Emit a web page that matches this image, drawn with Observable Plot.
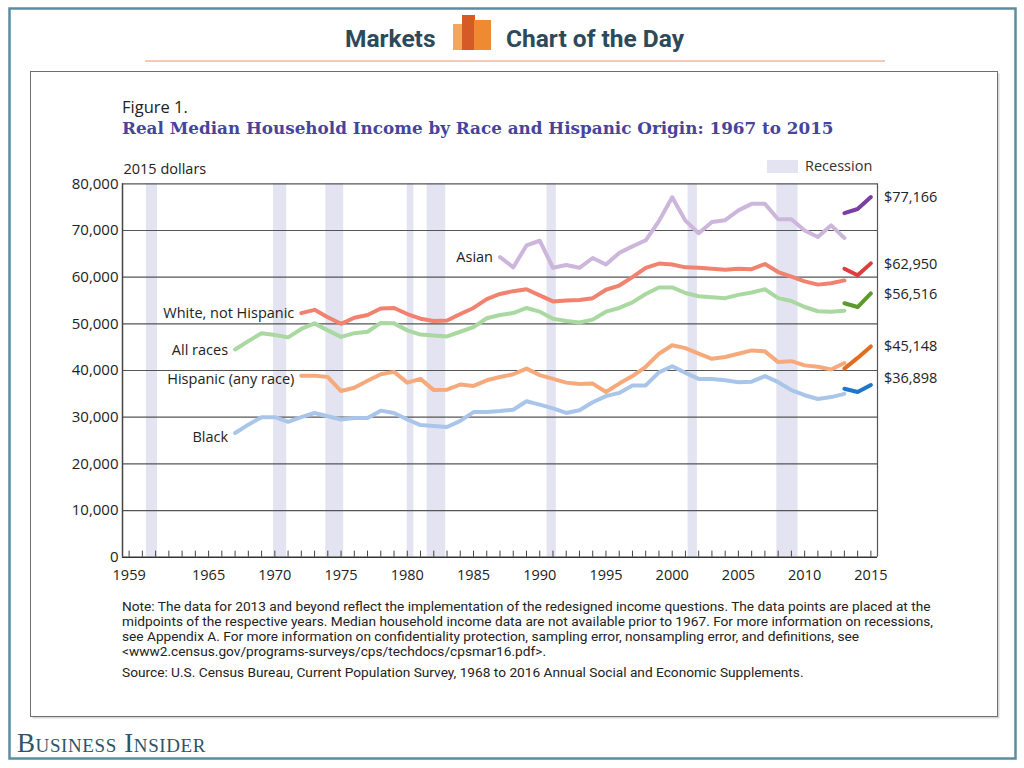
<!DOCTYPE html>
<html>
<head>
<meta charset="utf-8">
<script src="https://cdn.jsdelivr.net/npm/d3@7"></script>
<script src="https://cdn.jsdelivr.net/npm/@observablehq/plot@0.6"></script>
<style>
  body { margin: 0; background: #fff; }
  #page { position: relative; width: 1024px; height: 768px; overflow: hidden; }
  #deco { position: absolute; left: 0; top: 0; }
  #chart { position: absolute; left: 30px; top: 140px; }
</style>
</head>
<body>
<div id="page">
<svg id="deco" width="1024" height="768" xmlns="http://www.w3.org/2000/svg">
  <rect x="9.5" y="8.5" width="1006" height="750" fill="none" stroke="#5b8ca1" stroke-width="2.5"/>
  <text x="345" y="46.7" font-family="Roboto" font-weight="bold" font-size="24.5" fill="#2c4a5a">Markets</text>
  <rect x="453" y="24" width="12" height="26" fill="#f5a65b"/>
  <rect x="462" y="15" width="13" height="35" fill="#d65a26"/>
  <rect x="474" y="20" width="17" height="30" fill="#ef8a33"/>
  <text x="506" y="46.7" font-family="Roboto" font-weight="bold" font-size="24.5" fill="#2c4a5a">Chart of the Day</text>
  <line x1="145" x2="885" y1="61" y2="61" stroke="#f4b4a4" stroke-width="1.5"/>
  <rect x="32.5" y="73.5" width="967" height="645" fill="#d8d8d8"/>
  <rect x="30.5" y="71.5" width="967" height="645" fill="#fff" stroke="#6f6f6f" stroke-width="1"/>
  <text x="122" y="113" font-family="Open Sans" font-size="16.5" fill="#222">Figure 1.</text>
  <text x="122" y="134" font-family="DejaVu Serif" font-weight="bold" font-size="16.8" fill="#45459a">Real Median Household Income by Race and Hispanic Origin: 1967 to 2015</text>
  <rect x="767" y="160" width="31" height="13" fill="#e4e3f1"/>
  <text x="805" y="171" font-family="Open Sans" font-size="14.5" fill="#333">Recession</text>
  <g font-family="Roboto" font-size="13.7" fill="#222">
    <text x="122" y="611">Note: The data for 2013 and beyond reflect the implementation of the redesigned income questions. The data points are placed at the</text>
    <text x="122" y="626">midpoints of the respective years. Median household income data are not available prior to 1967. For more information on recessions,</text>
    <text x="122" y="641">see Appendix A. For more information on confidentiality protection, sampling error, nonsampling error, and definitions, see</text>
    <text x="122" y="655.5">&lt;www2.census.gov/programs-surveys/cps/techdocs/cpsmar16.pdf&gt;.</text>
    <text x="122" y="677">Source: U.S. Census Bureau, Current Population Survey, 1968 to 2016 Annual Social and Economic Supplements.</text>
  </g>
  <text x="17" y="751.5" font-family="Liberation Serif" font-size="27" font-variant="small-caps" letter-spacing="0.6" fill="#2e5468">Business Insider</text>
</svg>
<div id="chart"></div>
</div>
<script>
// ---- Data, 2015 dollars ----
const oldYears = [1967,1968,1969,1970,1971,1972,1973,1974,1975,1976,1977,1978,1979,1980,1981,1982,1983,1984,1985,1986,1987,1988,1989,1990,1991,1992,1993,1994,1995,1996,1997,1998,1999,2000,2001,2002,2003,2004,2005,2006,2007,2008,2009,2010,2011,2012,2013];
const newYears = [2013, 2014, 2015];

const allRaces = [44500,46300,48000,47600,47100,48900,50100,48600,47200,48000,48300,50200,50100,48600,47700,47500,47300,48300,49300,51200,51900,52300,53400,52600,51100,50600,50300,50900,52600,53400,54600,56400,57800,57800,56600,55900,55700,55500,56200,56700,57400,55500,54900,53600,52700,52600,52800];
const whiteNotHispanic = [null,null,null,null,null,52300,53000,51400,50000,51300,51900,53300,53400,52100,51100,50600,50700,52100,53400,55300,56400,57000,57400,56100,54800,55000,55100,55500,57300,58200,60000,62000,62900,62700,62100,62000,61800,61600,61800,61700,62800,61100,60100,59100,58400,58700,59300];
const hispanic = [null,null,null,null,null,38900,38900,38600,35600,36300,37800,39200,39700,37400,38200,35800,35900,37000,36700,37900,38600,39200,40400,39000,38200,37400,37100,37200,35400,37200,38800,40800,43600,45400,44800,43600,42500,42900,43600,44300,44100,41800,42000,41100,40800,40200,41600];
const black = [26600,28400,30000,30000,29000,30000,30900,30200,29500,29800,29800,31400,30900,29500,28300,28100,27900,29200,31100,31100,31300,31600,33400,32700,31900,30900,31500,33200,34500,35200,36800,36800,39600,40900,39500,38200,38200,37900,37500,37600,38800,37500,35800,34700,33900,34300,35000];
const asian = [null,null,null,null,null,null,null,null,null,null,null,null,null,null,null,null,null,null,null,null,64300,62100,66800,67800,62000,62600,62000,64100,62700,65200,66600,67900,72000,77100,72100,69400,71800,72200,74300,75700,75700,72400,72400,70000,68600,71100,68400];

const asianNew = [73700, 74600, 77166];
const whiteNew = [61800, 60400, 62950];
const allNew = [54400, 53600, 56516];
const hispanicNew = [40400, 42700, 45148];
const blackNew = [36100, 35400, 36898];

const seriesNames = ["Asian", "White, not Hispanic", "All races", "Hispanic (any race)", "Black"];
const recessionStart = [1960.3, 1969.9, 1973.85, 1980.0, 1981.5, 1990.55, 2001.2, 2007.9];
const recessionEnd   = [1961.15, 1970.9, 1975.2, 1980.5, 1982.9, 1991.25, 2001.9, 2009.5];
const yTicks = [0,10000,20000,30000,40000,50000,60000,70000,80000];
const xLabelYears = [1959,1965,1970,1975,1980,1985,1990,1995,2000,2005,2010,2015];
const xTickYears = [1959,1960,1961,1962,1963,1964,1965,1966,1967,1968,1969,1970,1971,1972,1973,1974,1975,1976,1977,1978,1979,1980,1981,1982,1983,1984,1985,1986,1987,1988,1989,1990,1991,1992,1993,1994,1995,1996,1997,1998,1999,2000,2001,2002,2003,2004,2005,2006,2007,2008,2009,2010,2011,2012,2013,2014,2015];

// ---- Styling (not data) ----
const style = {
  "Asian":               {old: "#cdb6dc", neu: "#7a3fa0", labelDy: 0,  endDy: 0},
  "White, not Hispanic": {old: "#f0826f", neu: "#e03b3e", labelDy: 0,  endDy: 1},
  "All races":           {old: "#a9d8a0", neu: "#5c9a2b", labelDy: 1,  endDy: 1},
  "Hispanic (any race)": {old: "#f6aa7c", neu: "#e06e1e", labelDy: 4,  endDy: 0},
  "Black":               {old: "#a9c6ea", neu: "#1f75c6", labelDy: 4,  endDy: -7}
};

const oldValues = {"Asian": asian, "White, not Hispanic": whiteNotHispanic, "All races": allRaces, "Hispanic (any race)": hispanic, "Black": black};
const newValues = {"Asian": asianNew, "White, not Hispanic": whiteNew, "All races": allNew, "Hispanic (any race)": hispanicNew, "Black": blackNew};

const recessions = recessionStart.map((s, i) => ({start: s, end: recessionEnd[i]}));

const marks = [
  Plot.rect(recessions, {x1: "start", x2: "end", y1: 0, y2: 80000, fill: "#e4e3f1"}),
  Plot.ruleY(yTicks.filter(d => d > 0), {stroke: "#555", strokeWidth: 1.2}),
  Plot.ruleX([1958.5], {y1: 0, y2: 80000, stroke: "#444", strokeWidth: 1.5}),
  Plot.ruleX([2015.5], {y1: 0, y2: 80000, stroke: "#555", strokeWidth: 1.2}),
  Plot.ruleX(xTickYears, {y1: 0, y2: 1300, stroke: "#444", strokeWidth: 1}),
  Plot.ruleY([0], {stroke: "#333", strokeWidth: 1.5}),
];

for (const name of seriesNames) {
  const st = style[name];
  const rowsOld = oldYears.map((y, i) => ({year: y, value: oldValues[name][i]})).filter(d => d.value != null);
  const rowsNew = newYears.map((y, i) => ({year: y, value: newValues[name][i]}));
  marks.push(Plot.line(rowsOld, {x: "year", y: "value", stroke: st.old, strokeWidth: 4, strokeLinejoin: "round"}));
  marks.push(Plot.line(rowsNew, {x: "year", y: "value", stroke: st.neu, strokeWidth: 4, strokeLinejoin: "round"}));
  marks.push(Plot.text([rowsOld[0]], {x: "year", y: "value", text: () => name, textAnchor: "end", dx: -7, dy: st.labelDy, fill: "#222"}));
  const last = rowsNew[rowsNew.length - 1];
  marks.push(Plot.text([last], {x: "year", y: "value", text: d => "$" + d3.format(",")(d.value), textAnchor: "start", dx: 13, dy: st.endDy, fill: "#222"}));
}

marks.push(
  Plot.axisY({ticks: yTicks, tickSize: 0, tickPadding: 4, tickFormat: d3.format(","), fontSize: 15, label: null, fill: "#222"}),
  Plot.axisX({ticks: xLabelYears, tickSize: 0, tickPadding: 13, tickFormat: d => String(d), fontSize: 14.5, label: null, fill: "#222"}),
  Plot.text(["2015 dollars"], {frameAnchor: "top-left", text: d => d, textAnchor: "start", dx: 1, dy: -20, fill: "#222"})
);

const chart = Plot.plot({
  width: 940,
  height: 450,
  marginLeft: 92,
  marginRight: 93,
  marginTop: 43.3,
  marginBottom: 33.3,
  x: {domain: [1958.5, 2015.5]},
  y: {domain: [0, 80000]},
  style: {fontFamily: "Open Sans", fontSize: "14.5px", color: "#222", background: "transparent", overflow: "visible"},
  marks
});
document.getElementById("chart").appendChild(chart);
</script>
</body>
</html>
